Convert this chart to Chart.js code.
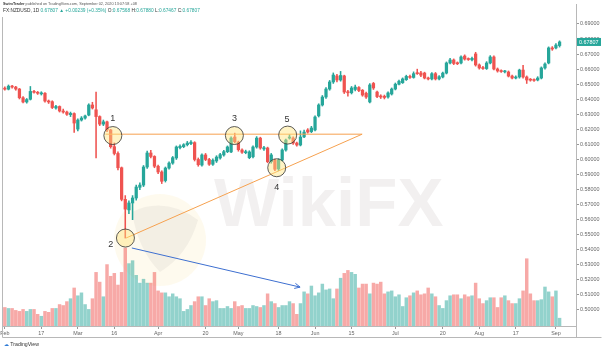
<!DOCTYPE html>
<html><head><meta charset="utf-8">
<script src="https://cdn.jsdelivr.net/npm/chart.js@4/dist/chart.umd.min.js"></script>
<style>
html,body{margin:0;padding:0;background:#fff;}
#wrap{position:relative;width:602px;height:351px;overflow:hidden;font-family:"Liberation Sans",Arial,sans-serif;}
canvas{display:block;position:absolute;left:0;top:0;}
.hd{position:absolute;left:3px;white-space:nowrap;color:#555;}
.g{color:#26a69a}
.logo{position:absolute;left:4px;top:341px;font-size:5.2px;color:#333;white-space:nowrap;}
</style>
</head><body><div id="wrap"><canvas id="c" width="602" height="351"></canvas>
<div class="hd" style="top:2px;font-size:3.8px;line-height:5px"><b style="color:#333">SwimTrader</b> published on TradingView.com, September 02, 2020 13:07:58 +08</div>
<div class="hd" style="top:8px;font-size:4.8px;line-height:6px;color:#333">FX:NZDUSD, 1D <span class="g">0.67807 ▲ +0.00239 (+0.35%)</span> O:<span class="g">0.67568</span> H:<span class="g">0.67880</span> L:<span class="g">0.67467</span> C:<span class="g">0.67807</span></div>
<div class="logo"><span style="color:#2e7bd6">&#9729;</span> TradingView</div>
</div>
<script>
// ---- data (daily bars, 2020-02-03 .. 2020-09-02) ----
const openP = [
0.6474,0.6467,0.6487,0.6481,0.6468,0.6410,0.6382,0.6400,0.6452,0.6446,
0.6436,0.6440,0.6388,0.6384,0.6342,0.6352,0.6322,0.6315,0.6298,0.6305,
0.6202,0.6262,0.6275,0.6295,0.6362,0.6330,0.6285,0.6235,0.6250,0.6196,
0.6085,0.6040,0.5945,0.5735,0.5665,0.5711,0.5744,0.5815,0.5830,0.5950,
0.6043,0.6020,0.5955,0.5917,0.5860,0.5943,0.5976,0.6010,0.6078,0.6085,
0.6098,0.6105,0.6112,0.6000,0.5963,0.6030,0.6000,0.5968,0.5990,0.6010,
0.6030,0.6052,0.6050,0.6149,0.6115,0.6063,0.6045,0.6012,0.6018,0.6083,
0.6142,0.6070,0.6076,0.5985,0.5996,0.5937,0.5996,0.6063,0.6142,0.6142,
0.6109,0.6096,0.6150,0.6196,0.6185,0.6196,0.6290,0.6362,0.6415,0.6468,
0.6515,0.6555,0.6528,0.6555,0.6450,0.6443,0.6465,0.6478,0.6460,0.6440,
0.6382,0.6505,0.6448,0.6422,0.6420,0.6415,0.6435,0.6468,0.6500,0.6510,
0.6530,0.6552,0.6545,0.6576,0.6575,0.6574,0.6541,0.6535,0.6570,0.6535,
0.6548,0.6574,0.6641,0.6661,0.6640,0.6641,0.6687,0.6668,0.6662,0.6701,
0.6628,0.6610,0.6604,0.6641,0.6681,0.6601,0.6590,0.6582,0.6581,0.6554,
0.6541,0.6548,0.6594,0.6548,0.6530,0.6528,0.6528,0.6541,0.6608,0.6641,
0.6741,0.6741,0.67568];
const highP = [
0.6482,0.6495,0.6492,0.6486,0.6472,0.6418,0.6405,0.6485,0.6460,0.6452,
0.6450,0.6445,0.6395,0.6390,0.6360,0.6356,0.6335,0.6322,0.6315,0.6310,
0.6270,0.6285,0.6295,0.6370,0.6380,0.6448,0.6290,0.6262,0.6255,0.6200,
0.6110,0.6050,0.5950,0.5760,0.5725,0.5760,0.5830,0.5845,0.5960,0.6055,
0.6060,0.6025,0.5962,0.5925,0.5950,0.5985,0.6020,0.6090,0.6098,0.6105,
0.6120,0.6125,0.6118,0.6010,0.6038,0.6040,0.6008,0.6005,0.6025,0.6040,
0.6060,0.6090,0.6150,0.6175,0.6122,0.6070,0.6062,0.6058,0.6090,0.6152,
0.6148,0.6088,0.6082,0.6040,0.6002,0.6005,0.6070,0.6135,0.6165,0.6150,
0.6115,0.6190,0.6195,0.6205,0.6220,0.6290,0.6370,0.6425,0.6478,0.6525,
0.6575,0.6565,0.6585,0.6560,0.6460,0.6485,0.6495,0.6485,0.6465,0.6448,
0.6505,0.6512,0.6455,0.6430,0.6428,0.6450,0.6475,0.6508,0.6528,0.6542,
0.6560,0.6560,0.6582,0.6600,0.6585,0.6580,0.6548,0.6578,0.6578,0.6558,
0.6580,0.6648,0.6672,0.6668,0.6648,0.6688,0.6695,0.6675,0.6680,0.6712,
0.6635,0.6618,0.6650,0.6690,0.6688,0.6608,0.6596,0.6592,0.6588,0.6560,
0.6555,0.6600,0.6625,0.6555,0.6538,0.6535,0.6550,0.6615,0.6642,0.6748,
0.6750,0.6770,0.67880];
const lowP = [
0.6460,0.6462,0.6474,0.6460,0.6402,0.6376,0.6374,0.6395,0.6440,0.6432,
0.6428,0.6380,0.6372,0.6338,0.6335,0.6315,0.6308,0.6292,0.6285,0.6180,
0.6190,0.6255,0.6268,0.6290,0.6335,0.6010,0.6225,0.6225,0.6185,0.6075,
0.6030,0.5930,0.5725,0.5478,0.5640,0.5600,0.5730,0.5800,0.5820,0.5940,
0.6010,0.5945,0.5905,0.5840,0.5850,0.5935,0.5968,0.6000,0.6070,0.6078,
0.6090,0.6098,0.5990,0.5955,0.5955,0.5992,0.5960,0.5960,0.5980,0.6002,
0.6022,0.6045,0.6045,0.6110,0.6055,0.6040,0.6038,0.6005,0.6010,0.6075,
0.6068,0.6060,0.5978,0.5975,0.5925,0.5925,0.5990,0.6055,0.6135,0.6100,
0.6088,0.6090,0.6145,0.6175,0.6178,0.6190,0.6282,0.6355,0.6405,0.6460,
0.6505,0.6515,0.6520,0.6438,0.6420,0.6435,0.6455,0.6450,0.6420,0.6405,
0.6375,0.6465,0.6410,0.6405,0.6402,0.6408,0.6428,0.6462,0.6495,0.6505,
0.6525,0.6538,0.6540,0.6565,0.6550,0.6535,0.6528,0.6528,0.6528,0.6528,
0.6542,0.6568,0.6635,0.6630,0.6630,0.6635,0.6660,0.6658,0.6655,0.6620,
0.6600,0.6598,0.6598,0.6635,0.6595,0.6580,0.6578,0.6575,0.6548,0.6535,
0.6535,0.6540,0.6540,0.6505,0.6520,0.6518,0.6522,0.6535,0.6600,0.6635,
0.6725,0.6735,0.67467];
const closeP = [
0.6467,0.6487,0.6481,0.6468,0.6410,0.6382,0.6398,0.6452,0.6446,0.6440,
0.6442,0.6388,0.6382,0.6345,0.6352,0.6322,0.6315,0.6300,0.6306,0.6242,
0.6262,0.6275,0.6289,0.6362,0.6342,0.6285,0.6235,0.6250,0.6196,0.6085,
0.6040,0.5945,0.5735,0.5670,0.5711,0.5744,0.5817,0.5830,0.5950,0.6043,
0.6020,0.5955,0.5917,0.5855,0.5943,0.5976,0.6012,0.6083,0.6088,0.6098,
0.6109,0.6115,0.6000,0.5965,0.6030,0.6000,0.5968,0.5995,0.6016,0.6032,
0.6052,0.6083,0.6142,0.6118,0.6065,0.6048,0.6052,0.6050,0.6083,0.6142,
0.6076,0.6078,0.5985,0.6030,0.5935,0.5996,0.6063,0.6129,0.6149,0.6109,
0.6096,0.6149,0.6182,0.6182,0.6209,0.6282,0.6362,0.6415,0.6468,0.6515,
0.6561,0.6528,0.6558,0.6448,0.6443,0.6475,0.6481,0.6458,0.6428,0.6415,
0.6495,0.6475,0.6418,0.6415,0.6412,0.6442,0.6468,0.6500,0.6520,0.6535,
0.6552,0.6545,0.6570,0.6570,0.6560,0.6541,0.6535,0.6570,0.6535,0.6550,
0.6574,0.6641,0.6661,0.6638,0.6636,0.6681,0.6667,0.6664,0.6672,0.6628,
0.6608,0.6604,0.6641,0.6681,0.6601,0.6588,0.6584,0.6586,0.6554,0.6541,
0.6548,0.6594,0.6548,0.6528,0.6527,0.6525,0.6541,0.6608,0.6634,0.6741,
0.6734,0.6760,0.67807];
const volume = [
19,18,18,16,15,17,15,17,17,12, 10,15,14,18,18,22,21,25,28,39,
31,34,22,17,28,55,45,30,63,51, 54,42,55,80,64,67,52,44,48,44,
44,55,36,34,34,30,33,30,28,15, 17,21,25,30,30,21,28,25,26,18,
18,20,18,25,20,21,18,18,21,20, 19,21,33,25,23,19,21,21,25,23,
12,23,35,33,41,31,34,43,37,38, 28,38,49,54,57,55,53,39,43,43,
33,44,43,45,33,35,36,30,32,20, 29,31,34,36,32,33,39,33,30,21,
18,26,31,32,32,28,32,30,31,44, 28,23,26,29,29,19,29,31,26,23,
23,28,36,69,33,26,26,27,40,35, 30,36,8];
const priceTicks = [0.50,0.51,0.52,0.53,0.54,0.55,0.56,0.57,0.58,0.59,0.60,0.61,0.62,0.63,0.64,0.65,0.66,0.67,0.68,0.69];
const tickDates = ['2020-02-03','2020-02-17','2020-03-02','2020-03-16','2020-04-01','2020-04-20','2020-05-01','2020-05-18','2020-06-01','2020-06-15','2020-07-01','2020-07-20','2020-08-03','2020-08-17','2020-09-01'];
const tickTexts = ['Feb','17','Mar','16','Apr','20','May','18','Jun','15','Jul','20','Aug','17','Sep'];
// drawing annotations (bar index, price)
const resistanceLine = [{x:27.6,y:0.6168},{x:97.9,y:0.6168}];
const supportLine = [{x:33.2,y:0.5478},{x:97.9,y:0.6168}];
const arrowLine = [{x:34.8,y:0.5412},{x:80.9,y:0.5152}];
const touchPoints = [{x:29.6,y:0.6159},{x:33.05,y:0.5478},{x:62.9,y:0.6159},{x:74.5,y:0.5945},{x:77.5,y:0.6162}];
const touchLabels = ['1','2','3','4','5'];
const labelPoints = [{x:29.6,y:0.6275},{x:29.0,y:0.5438},{x:62.9,y:0.6272},{x:74.5,y:0.5817},{x:77.3,y:0.6265}];

// categories: trading days (index i on the x axis)
const dates = [];
(function(){ let d = new Date(Date.UTC(2020,1,3)); while (dates.length < openP.length) { const w = d.getUTCDay(); if (w!==0 && w!==6) dates.push(d.toISOString().slice(0,10)); d = new Date(d.getTime()+86400000); } })();
const EXTRA = 4;              // empty bar slots right of the last bar
const NSLOT = dates.length + EXTRA;
const tickIdx = tickDates.map(d=>dates.indexOf(d));

const UP='#26a69a', DN='#ef5350';
const dirUp = openP.map((o,i)=>closeP[i]>=o);

const bgPlugin = {
  id:'bg',
  beforeDatasetsDraw(chart){
    const {ctx} = chart;
    ctx.save();
    ctx.beginPath(); ctx.arc(160,240,46,0,Math.PI*2);
    ctx.fillStyle='rgba(250,226,150,0.16)'; ctx.fill();
    ctx.beginPath(); ctx.moveTo(132,212); ctx.quadraticCurveTo(165,196,198,220); ctx.quadraticCurveTo(188,255,160,272); ctx.quadraticCurveTo(138,250,132,212);
    ctx.fillStyle='rgba(150,140,140,0.10)'; ctx.fill();
    ctx.font='bold 69px "Liberation Sans", Arial, sans-serif';
    ctx.fillStyle='rgba(165,150,150,0.14)';
    ctx.textBaseline='middle';
    ctx.fillText('WikiFX',214,207);
    ctx.restore();
  },
  afterDraw(chart){
    const {ctx, scales} = chart;
    ctx.save();
    ctx.strokeStyle='#b8b8b8'; ctx.lineWidth=1;
    ctx.beginPath();
    ctx.moveTo(2.5,17); ctx.lineTo(2.5,337.5); ctx.lineTo(601.5,337.5);
    ctx.moveTo(576.5,4); ctx.lineTo(576.5,337.5);
    ctx.stroke();
    const x = scales.x, y = scales.y;
    ctx.fillStyle='#333'; ctx.font='9px "Liberation Sans", Arial, sans-serif';
    ctx.textAlign='center'; ctx.textBaseline='middle';
    labelPoints.forEach((p,i)=>ctx.fillText(touchLabels[i], x.getPixelForValue(p.x), y.getPixelForValue(p.y)));
    const x1=x.getPixelForValue(arrowLine[0].x), y1=y.getPixelForValue(arrowLine[0].y);
    const x2=x.getPixelForValue(arrowLine[1].x), y2=y.getPixelForValue(arrowLine[1].y);
    const ang=Math.atan2(y2-y1,x2-x1);
    ctx.strokeStyle='#3d6fd0'; ctx.lineWidth=1;
    ctx.beginPath();
    ctx.moveTo(x2-6*Math.cos(ang-0.45), y2-6*Math.sin(ang-0.45)); ctx.lineTo(x2,y2);
    ctx.lineTo(x2-6*Math.cos(ang+0.45), y2-6*Math.sin(ang+0.45));
    ctx.stroke();
    const last = closeP[closeP.length-1];
    const py = y.getPixelForValue(last);
    ctx.fillStyle=UP; ctx.fillRect(577,py-4,24,8);
    ctx.fillStyle='#fff'; ctx.font='5.4px "Liberation Sans", Arial, sans-serif';
    ctx.textAlign='left'; ctx.fillText(last.toFixed(5),579,py+0.3);
    ctx.restore();
  }
};

new Chart(document.getElementById('c'), {
  type:'bar',
  data:{
    datasets:[
      {type:'line', label:'res', data:resistanceLine, borderColor:'#f6a14f', borderWidth:1, pointRadius:0, order:0},
      {type:'line', label:'sup', data:supportLine, borderColor:'#f6a14f', borderWidth:1, pointRadius:0, order:0},
      {type:'line', label:'arrow', data:arrowLine, borderColor:'#3d6fd0', borderWidth:1, pointRadius:0, order:0},
      {type:'scatter', label:'touch', data:touchPoints, pointRadius:9, pointBackgroundColor:'rgba(255,228,125,0.45)', pointBorderColor:'#333', pointBorderWidth:0.8, order:-1},
      {label:'body', data: openP.map((o,i)=>({x:i, y:[o, closeP[i]]})), backgroundColor: dirUp.map(u=>u?UP:DN), barThickness:2.6, grouped:false, minBarLength:1, order:1},
      {label:'wick', data: lowP.map((l,i)=>({x:i, y:[l, highP[i]]})), backgroundColor: dirUp.map(u=>u?UP:DN), barThickness:0.9, grouped:false, order:2},
      {label:'vol', data: volume.map((v,i)=>({x:i, y:v})), yAxisID:'yv', backgroundColor: dirUp.map(u=>u?'rgba(38,166,154,0.5)':'rgba(239,83,80,0.5)'), barThickness:2.8, grouped:false, order:5}
    ]
  },
  options:{
    responsive:false, animation:false, devicePixelRatio:1,
    layout:{autoPadding:false, padding:{left:3,top:17,right:0,bottom:14}},
    plugins:{legend:{display:false}, tooltip:{enabled:false}},
    scales:{
      x:{type:'linear', offset:false, bounds:'data', grace:0, min:-0.5, max:NSLOT-0.5,
        grid:{display:true, drawOnChartArea:false, offset:false, tickLength:3, color:'#999'},
        border:{display:true, color:'#b8b8b8'},
        ticks:{autoSkip:false, maxRotation:0, padding:1, color:'#666', font:{size:5.4, family:'"Liberation Sans", Arial, sans-serif'},
          callback:function(v){ const k = tickIdx.indexOf(v); return k>=0 ? tickTexts[k] : ''; }},
        afterBuildTicks:function(s){ s.ticks = tickIdx.map(v=>({value:v})); },
        afterFit:function(s){ s.height=11; s.paddingLeft=0; s.paddingRight=0; }
      },
      y:{type:'linear', position:'right', min:0.48937, max:0.69465, beginAtZero:false, grace:0,
        grid:{display:true, drawOnChartArea:false, tickLength:3, color:'#999'},
        border:{display:true, color:'#b8b8b8'},
        ticks:{padding:1, color:'#666', font:{size:5.4, family:'"Liberation Sans", Arial, sans-serif'}, callback:v=>v.toFixed(5)},
        afterBuildTicks:function(s){ s.ticks = priceTicks.map(v=>({value:v})); },
        afterFit:function(s){ s.width=26; s.paddingTop=0; s.paddingBottom=0; }
      },
      yv:{type:'linear', display:false, min:0, max:317, grace:0}
    }
  },
  plugins:[bgPlugin]
});
</script>
</body></html>
